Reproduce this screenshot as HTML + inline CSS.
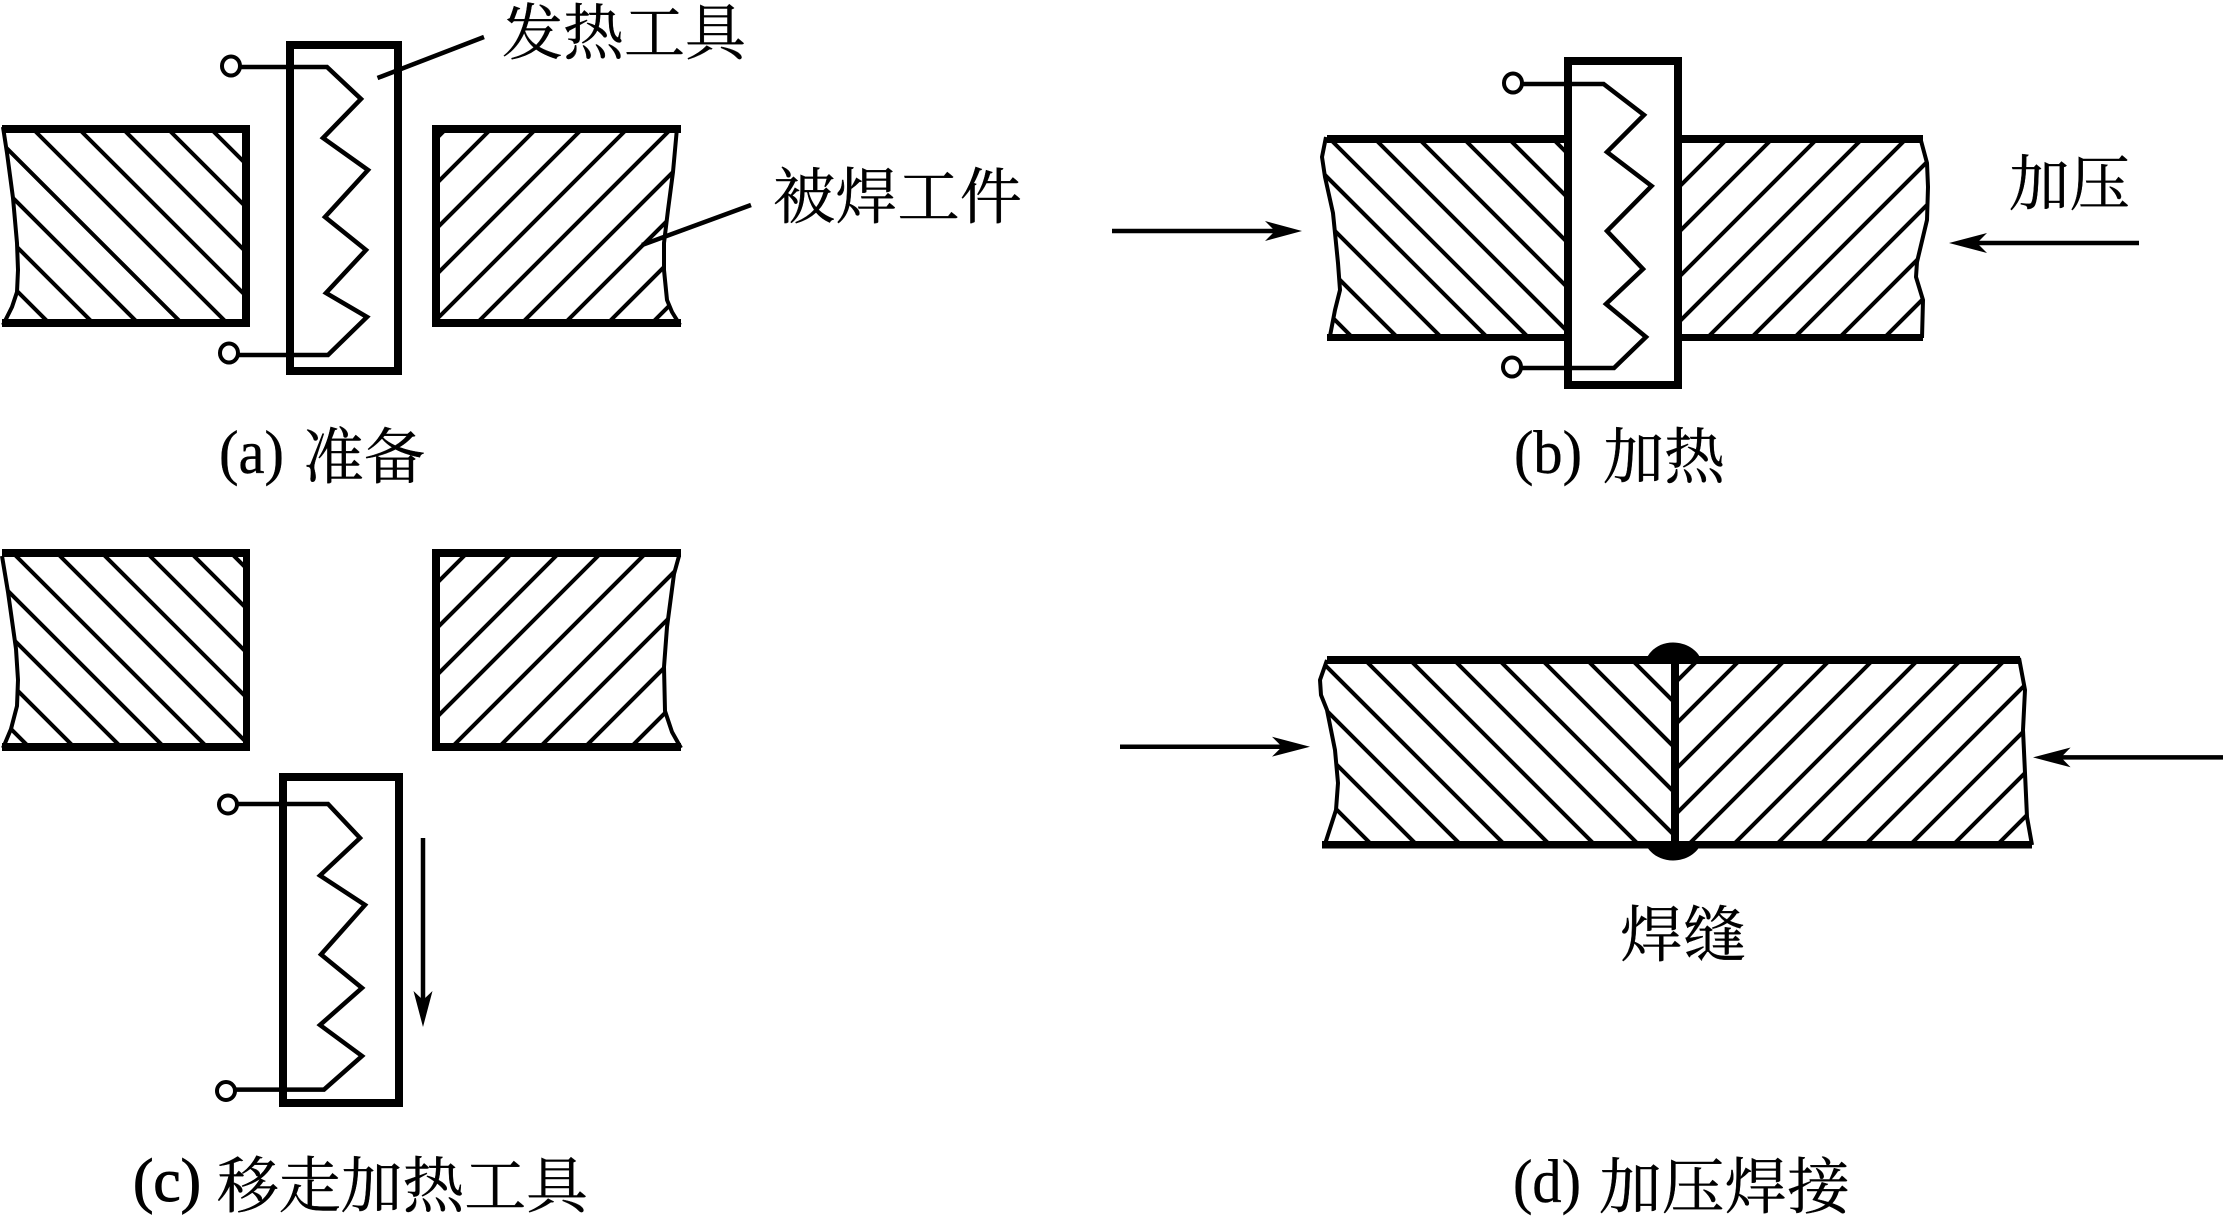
<!DOCTYPE html>
<html><head><meta charset="utf-8"><style>
html,body{margin:0;padding:0;background:#fff}
svg{display:block}
text{font-family:"Liberation Serif","Noto Serif CJK SC",serif;font-size:61px;fill:#000;stroke:#000;stroke-width:.4}
.h{stroke:#000;stroke-width:4;fill:none}
.e{stroke:#000;stroke-width:4;fill:none;stroke-linejoin:round}
.w{stroke:#000;stroke-width:4.5;fill:none;stroke-linejoin:miter}
.c{stroke:#000;stroke-width:4;fill:#fff}
.t{stroke:#000;stroke-width:8;fill:#fff}
.a{stroke:#000;stroke-width:4.5;fill:none}
</style></head><body>
<svg width="2223" height="1222" viewBox="0 0 2223 1222" xmlns="http://www.w3.org/2000/svg">
<defs>
<clipPath id="aL"><polygon points="3,127 249,127 249,323 3,323 12,307 17,292 17,243 13,198 7,153"/></clipPath>
<clipPath id="aR"><polygon points="433,127 677,127 673,172 668,210 664,243 664,270 667,300 680,323 433,323"/></clipPath>
<clipPath id="bL"><polygon points="1326,137 1570,137 1570,338 1330,338 1335,310 1340,290 1338,263 1333,213 1325,177 1322,157"/></clipPath>
<clipPath id="bR"><polygon points="1680,137 1920,137 1927,163 1928,187 1927,220 1917,262 1916,277 1923,300 1922,338 1680,338"/></clipPath>
<clipPath id="cL"><polygon points="3,552 250,552 250,747 3,747 11,729 17,706 16,649 7,587"/></clipPath>
<clipPath id="cR"><polygon points="432,552 679,552 674,574 667,627 664,667 665,711 680,747 432,747"/></clipPath>
<clipPath id="dL"><polygon points="1327,660 1674,660 1674,845 1325,845 1336,810 1338,783 1335,750 1327,710 1320,687"/></clipPath>
<clipPath id="dR"><polygon points="1674,660 2019,660 2025,690 2023,730 2025,773 2027,817 2032,845 1674,845"/></clipPath>
</defs>

<!-- Panel a -->
<g clip-path="url(#aL)"><path class="h" d="M212 130l200 200M169 130l200 200M124 130l200 200M80 130l200 200M34 130l200 200M-11.500 130l200 200M-55 130l200 200M-100 130l200 200M-144 130l200 200"/></g>
<polyline class="e" points="3,127 7,153 13,198 17,243 18,270 17,292 12,307 3,325"/>
<rect x="2" y="125" width="248" height="8"/><rect x="2" y="319" width="248" height="8"/><rect x="242" y="125" width="8" height="202"/>

<g clip-path="url(#aR)"><path class="h" d="M445 130l-200 200M490 130l-200 200M535 130l-200 200M581 130l-200 200M626 130l-200 200M670 130l-200 200M715 130l-200 200M758 130l-200 200M801 130l-200 200M845 130l-200 200"/></g>
<polyline class="e" points="677,128 673,172 668,210 664,243 664,270 667,300 672,312 680,325"/>
<rect x="432" y="125" width="249" height="8"/><rect x="432" y="319" width="249" height="8"/><rect x="432" y="125" width="8" height="202"/>

<rect class="t" x="290" y="45" width="108" height="326"/>
<rect x="286" y="41" width="116" height="7"/><rect x="286" y="367" width="116" height="8"/>
<polyline class="w" points="240,67 327,67 361,99 323,138 368,170 325,217 366,250 326,293 367,317 328,355 238,355"/>
<ellipse class="c" cx="231" cy="66" rx="9" ry="9.500"/><ellipse class="c" cx="229" cy="353" rx="9" ry="9.500"/>
<line class="a" x1="484" y1="37" x2="377.500" y2="78"/>
<line class="a" x1="751" y1="205" x2="642" y2="245"/>
<text x="502" y="54" textLength="244" lengthAdjust="spacingAndGlyphs">发热工具</text>
<text x="773" y="218" textLength="249" lengthAdjust="spacingAndGlyphs">被焊工件</text>
<text x="219" y="473" textLength="65" lengthAdjust="spacingAndGlyphs">(a)</text>
<text x="303" y="478" textLength="122" lengthAdjust="spacingAndGlyphs">准备</text>

<!-- Panel b -->
<g clip-path="url(#bL)"><path class="h" d="M1329 138l200 200M1374 138l200 200M1418 138l200 200M1463 138l200 200M1508 138l200 200M1552 138l200 200M1288 138l200 200M1242 138l200 200M1198 138l200 200M1153 138l200 200"/></g>
<polyline class="e" points="1326,137 1322,157 1325,177 1333,213 1338,263 1340,290 1335,310 1330,336"/>
<rect x="1327" y="135" width="240" height="8"/><rect x="1327" y="334" width="240" height="7"/>
<g clip-path="url(#bR)"><path class="h" d="M1728 138l-200 200M1773 138l-200 200M1818 138l-200 200M1863 138l-200 200M1907 138l-200 200M1951 138l-200 200M1994 138l-200 200M2039 138l-200 200M2084 138l-200 200"/></g>
<polyline class="e" points="1920,137 1927,163 1928,187 1927,220 1917,262 1916,277 1923,300 1922,338"/>
<rect x="1680" y="135" width="243" height="8"/><rect x="1680" y="334" width="243" height="7"/>

<rect class="t" x="1568" y="61" width="110" height="324"/>
<rect x="1564" y="57" width="118" height="8"/><rect x="1564" y="381" width="118" height="8"/>
<polyline class="w" points="1522,84 1603.600,84 1644,115 1607,152 1651.600,186 1607,231 1643,269 1606,304 1646,337 1614,368 1521,368"/>
<ellipse class="c" cx="1513" cy="83" rx="9" ry="9.500"/><ellipse class="c" cx="1512" cy="367" rx="9" ry="9.500"/>
<line x1="1112" y1="231" x2="1280" y2="231" stroke="#000" stroke-width="4.500"/>
<polygon points="1302,231 1265,221 1275,231 1265,241"/>
<line x1="2139" y1="243" x2="1970" y2="243" stroke="#000" stroke-width="4.500"/>
<polygon points="1949,243 1987,233 1977,243 1987,253"/>
<text x="2009" y="205" textLength="121" lengthAdjust="spacingAndGlyphs">加压</text>
<text x="1514" y="473" textLength="68" lengthAdjust="spacingAndGlyphs">(b)</text>
<text x="1603" y="478" textLength="122" lengthAdjust="spacingAndGlyphs">加热</text>

<!-- Panel c -->
<g clip-path="url(#cL)"><path class="h" d="M12 552l200 200M56 552l200 200M101 552l200 200M146 552l200 200M190 552l200 200M230 552l200 200M-31 552l200 200M-74 552l200 200M-121 552l200 200M-166 552l200 200"/></g>
<polyline class="e" points="2,556 8,592 16,649 18,680 17,706 11,729 3,748"/>
<rect x="2" y="549" width="248" height="8"/><rect x="2" y="743" width="248" height="8"/><rect x="243" y="549" width="7" height="202"/>
<g clip-path="url(#cR)"><path class="h" d="M468 552l-200 200M513 552l-200 200M560 552l-200 200M602 552l-200 200M647 552l-200 200M694 552l-200 200M735 552l-200 200M780 552l-200 200M826 552l-200 200"/></g>
<polyline class="e" points="679,556 674,574 667,627 664,667 665,711 672,732 681,748"/>
<rect x="432" y="549" width="249" height="8"/><rect x="432" y="743" width="249" height="8"/><rect x="432" y="549" width="8" height="202"/>

<rect class="t" x="283" y="777" width="116" height="326"/>
<rect x="279" y="1099" width="124" height="8"/>
<polyline class="w" points="237,804 328,804 360,838 320,875.500 365,905 321,954.500 362,988 320,1025 362,1056 324,1089.600 235,1089.600"/>
<circle class="c" cx="228" cy="804.500" r="9"/><circle class="c" cx="226" cy="1091" r="9"/>
<line x1="423" y1="838" x2="423" y2="1005" stroke="#000" stroke-width="4.500"/>
<polygon points="423,1027 413.500,991 423,1000 432.500,991"/>
<text x="133" y="1201" textLength="68" lengthAdjust="spacingAndGlyphs" style="stroke-width:1">(c)</text>
<text x="217" y="1207" textLength="371" lengthAdjust="spacingAndGlyphs">移走加热工具</text>

<!-- Panel d -->
<g clip-path="url(#dL)"><path class="h" d="M1365 660l200 200M1410 660l200 200M1454 660l200 200M1499 660l200 200M1542 660l200 200M1587 660l200 200M1632 660l200 200M1320 660l200 200M1276 660l200 200M1232 660l200 200M1187 660l200 200"/></g>
<g clip-path="url(#dR)"><path class="h" d="M1698 660l-200 200M1740 660l-200 200M1785 660l-200 200M1830 660l-200 200M1873 660l-200 200M1918 660l-200 200M1961 660l-200 200M2005 660l-200 200M2050 660l-200 200M2095 660l-200 200M2138 660l-200 200M2182 660l-200 200"/></g>
<polyline class="e" points="1327,660 1320,680 1321,695 1327,710 1335,750 1338,783 1336,810 1325,844"/>
<polyline class="e" points="2019,658 2025,690 2023,730 2025,773 2027,817 2032,845"/>
<rect x="1327" y="656" width="693" height="8"/><rect x="1322" y="841" width="710" height="7.500"/>
<rect x="1671" y="656" width="8" height="190"/>
<path d="M1645 662C1649 650 1660 642.500 1673 642.500C1686 642.500 1698 650 1701 660L1672 663L1650 663Z"/>
<path d="M1645 843C1649 853 1660 860.500 1673 860.500C1686 860.500 1698 853 1701 843Z"/>
<line x1="1120" y1="746.700" x2="1290" y2="746.700" stroke="#000" stroke-width="4.500"/>
<polygon points="1310,746.700 1272,736.800 1282,746.700 1272,756.600"/>
<line x1="2223" y1="757.400" x2="2050" y2="757.400" stroke="#000" stroke-width="4.500"/>
<polygon points="2033,757.400 2070.600,747.500 2061,757.400 2070.600,767.300"/>
<text x="1620" y="956" textLength="126" lengthAdjust="spacingAndGlyphs">焊缝</text>
<text x="1513" y="1202" textLength="68" lengthAdjust="spacingAndGlyphs">(d)</text>
<text x="1599" y="1208" textLength="251" lengthAdjust="spacingAndGlyphs">加压焊接</text>
</svg>
</body></html>
